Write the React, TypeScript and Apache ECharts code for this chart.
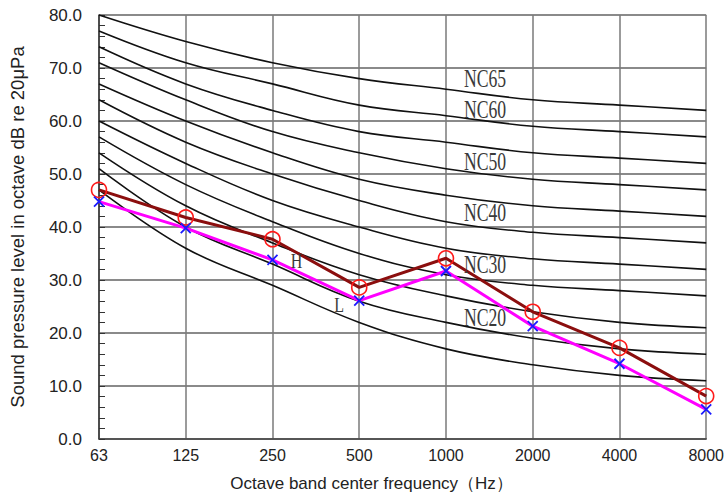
import React, { useEffect, useRef } from "react";
import * as echarts from "echarts";

const frequencies = ["63", "125", "250", "500", "1000", "2000", "4000", "8000"];
const yTicks = [0, 10, 20, 30, 40, 50, 60, 70, 80];

const nc15 = [47, 36, 29, 22, 17, 14, 12, 11];
const nc20 = [51, 40, 33, 26, 22, 19, 17, 16];
const nc25 = [54, 44, 37, 31, 27, 24, 22, 21];
const nc30 = [57, 48, 41, 35, 31, 29, 28, 27];
const nc35 = [60, 52, 45, 40, 36, 34, 33, 32];
const nc40 = [64, 56, 50, 45, 41, 39, 38, 37];
const nc45 = [67, 60, 54, 49, 46, 44, 43, 42];
const nc50 = [71, 64, 58, 54, 51, 49, 48, 47];
const nc55 = [74, 67, 62, 58, 56, 54, 53, 52];
const nc60 = [77, 71, 67, 63, 61, 59, 58, 57];
const nc65 = [80, 75, 71, 68, 66, 64, 63, 62];

const ncCurves = [
  { name: "NC15", values: nc15 },
  { name: "NC20", values: nc20 },
  { name: "NC25", values: nc25 },
  { name: "NC30", values: nc30 },
  { name: "NC35", values: nc35 },
  { name: "NC40", values: nc40 },
  { name: "NC45", values: nc45 },
  { name: "NC50", values: nc50 },
  { name: "NC55", values: nc55 },
  { name: "NC60", values: nc60 },
  { name: "NC65", values: nc65 },
];

const labelledCurves = ["NC65", "NC60", "NC50", "NC40", "NC30", "NC20"];

const hValues = [47.0, 41.8, 37.7, 28.6, 34.1, 24.0, 17.2, 8.1];
const lValues = [44.8, 39.8, 33.8, 26.1, 31.7, 21.3, 14.2, 5.6];

export default function App() {
  const ref = useRef<HTMLDivElement>(null);

  useEffect(() => {
    if (!ref.current) return;
    const chart = echarts.init(ref.current, null, { renderer: "svg" });
    const sans = "Liberation Sans, Arial, sans-serif";
    const serif = "Liberation Serif, DejaVu Serif, serif";

    const series: any[] = ncCurves.map((c) => ({
      name: c.name,
      type: "line",
      data: c.values,
      smooth: 0.4,
      showSymbol: false,
      symbol: "none",
      lineStyle: { color: "#111", width: 1.6 },
      silent: true,
      z: 2,
    }));

    series.push({
      name: "H",
      type: "line",
      data: hValues,
      symbol: "circle",
      symbolSize: 15,
      lineStyle: { color: "#8b0e0e", width: 3 },
      itemStyle: { color: "rgba(0,0,0,0)", borderColor: "#ff1a1a", borderWidth: 1.6 },
      z: 4,
    });
    series.push({
      name: "L",
      type: "line",
      data: lValues,
      symbol: "path://M0,0L10,10M10,0L0,10",
      symbolSize: 10,
      lineStyle: { color: "#ff00ff", width: 3 },
      itemStyle: { color: "#1a1aff", borderColor: "#1a1aff", borderWidth: 1.8 },
      z: 5,
    });

    chart.setOption({
      animation: false,
      backgroundColor: "#fff",
      grid: { left: 99, right: 16, top: 15, bottom: 63, containLabel: false },
      xAxis: {
        type: "category",
        data: frequencies,
        boundaryGap: false,
        name: "Octave band center frequency（Hz）",
        nameLocation: "middle",
        nameGap: 36,
        nameTextStyle: { fontSize: 17, color: "#222", fontFamily: sans, padding: [0, 62, 0, 0] },
        axisLine: { show: true, lineStyle: { color: "#444", width: 1.5 } },
        axisTick: { show: false },
        axisLabel: { fontSize: 16, color: "#222", margin: 8, fontFamily: sans },
        splitLine: { show: true, lineStyle: { color: "#7a7a7a", width: 1.5 } },
      },
      yAxis: {
        type: "value",
        min: yTicks[0],
        max: yTicks[yTicks.length - 1],
        interval: 10,
        name: "Sound pressure level in octave dB re 20μPa",
        nameLocation: "middle",
        nameGap: 72,
        nameTextStyle: { fontSize: 18.5, color: "#222", fontFamily: sans },
        axisLine: { show: true, lineStyle: { color: "#333", width: 1.5 } },
        axisTick: { show: true, inside: true, length: 6, lineStyle: { color: "#333" } },
        minorTick: { show: true, splitNumber: 5, length: 6, lineStyle: { color: "#333" } },
        axisLabel: {
          fontSize: 17,
          color: "#222",
          margin: 17,
          fontFamily: sans,
          formatter: (v: number) => v.toFixed(1),
        },
        splitLine: { show: true, lineStyle: { color: "#8a8a8a", width: 1.8 } },
      },
      series,
    });

    // annotations placed relative to data points
    const ncOffsets: Record<string, number> = {
      NC65: -11,
      NC60: -6.5,
      NC50: -7.5,
      NC40: -9,
      NC30: -10,
      NC20: -5.5,
    };
    const graphics: any[] = [];
    labelledCurves.forEach((name) => {
      const curve = ncCurves.find((c) => c.name === name)!;
      const idx = 4;
      const p = chart.convertToPixel({ gridIndex: 0 }, [idx, curve.values[idx]]) as number[];
      graphics.push({
        type: "text",
        x: p[0] + 18,
        y: p[1] + ncOffsets[name],
        scaleX: 0.68,
        z: 10,
        style: {
          text: name,
          font: `26px ${serif}`,
          fill: "#3a3a3a",
          align: "left",
          verticalAlign: "middle",
        },
      });
    });
    const pH = chart.convertToPixel({ gridIndex: 0 }, [2, lValues[2]]) as number[];
    const pL = chart.convertToPixel({ gridIndex: 0 }, [3, lValues[3]]) as number[];
    graphics.push({
      type: "text",
      x: pH[0] + 24,
      y: pH[1] + 2,
      scaleX: 0.8,
      z: 10,
      style: { text: "H", font: `20px ${serif}`, fill: "#3a3a3a", align: "center", verticalAlign: "middle" },
    });
    graphics.push({
      type: "text",
      x: pL[0] - 20,
      y: pL[1] + 5,
      scaleX: 0.8,
      z: 10,
      style: { text: "L", font: `20px ${serif}`, fill: "#3a3a3a", align: "center", verticalAlign: "middle" },
    });
    chart.setOption({ graphic: graphics });

    return () => chart.dispose();
  }, []);

  return <div ref={ref} style={{ width: 727, height: 502, position: "absolute", left: 0, top: 0 }} />;
}
